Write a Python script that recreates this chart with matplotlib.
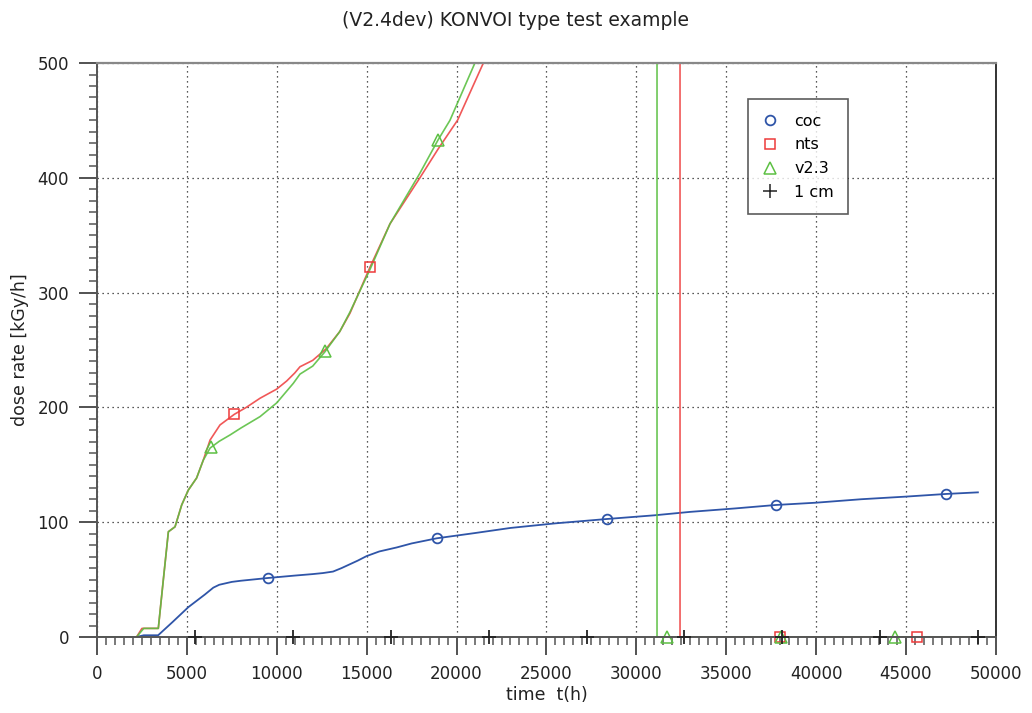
import numpy as np
import matplotlib
matplotlib.use("Agg")
import matplotlib.pyplot as plt
from matplotlib.ticker import MultipleLocator

# coc: computed dose rate over time
coc_t = [0, 2200, 2600, 3400, 4200, 5080, 6000, 6470, 6800, 7500, 8000, 9510, 11000,
         12000, 12570, 13130, 13600, 14500, 15000, 15700, 16670, 17500, 18910, 21000,
         23000, 25500, 28370, 31000, 33000, 35500, 37760, 40000, 42500, 45000, 47220, 49000]
coc_v = [0, 0, 1.5, 1.5, 13, 26, 37, 43, 45.5, 48, 49, 51.4, 53.5,
         54.8, 55.7, 57, 60, 66.5, 70.5, 74.5, 78, 81.5, 86, 90.5,
         95, 99, 102.8, 106, 109, 112, 115, 117, 120, 122.3, 124.6, 126]

# nts: reference dose rate, drops to zero after the last valid point
nts_t = [0, 2200, 2500, 3410, 3690, 3970, 4340, 4710, 5080, 5540, 5910, 6290,
         6840, 7640, 8300, 9070, 10000, 10550, 11000, 11290, 12000, 12740, 13500,
         14070, 15180, 16300, 17960, 18970, 20060, 21490, 23000, 26000, 29000,
         32430, 32431, 40000, 50000]
nts_v = [0, 0, 7.5, 7.5, 50, 91.7, 96, 115, 128, 138.5, 154, 171.6,
         184.7, 194, 200, 208, 216, 223, 230, 235.4, 241, 251, 266,
         282, 322, 360, 400, 425, 450.3, 500, 545, 640, 740,
         850, 0, 0, 0]

# v2.3: previous code version
v23_t = [0, 2200, 2600, 3410, 3690, 3970, 4340, 4710, 5080, 5540, 5910, 6290,
         6800, 7400, 8000, 9070, 10000, 10920, 11290, 12000, 12680, 13500, 14070,
         15180, 16300, 17960, 18970, 19630, 21020, 23000, 26000, 29000, 31150,
         31151, 40000, 50000]
v23_v = [0, 0, 7.5, 7.5, 50, 91.7, 96, 115, 128, 138.5, 154, 164.6,
         170.5, 176, 182, 192, 204, 221, 229, 236, 248.5, 266, 283,
         320, 360, 404, 433, 450, 500, 560, 660, 760, 830,
         0, 0, 0]

# 1 cm: zero throughout
cm1_t = [0, 50000]
cm1_v = [0, 0]

# marker positions along each curve
coc_mark = [9510, 18910, 28370, 37760, 47220]
nts_mark = [7640, 15180, 22800, 30400, 38000, 45600]
v23_mark = [6340, 12700, 18970, 25300, 31700, 38050, 44400]
cm1_mark = [5450, 10900, 16350, 21800, 27250, 32650, 38100, 43550, 49000]

blue = "#2f55a8"
red = "#ee3b3b"
green = "#5cc043"

ymax = 500


def marks(xm, t, v):
    ym = np.interp(xm, t, v)
    ym[ym > ymax] = np.nan  # off-scale marks are not drawn
    return xm, ym


fig = plt.figure(figsize=(10.32, 7.13), dpi=100)
ax = fig.add_axes([0.094, 0.1066, 0.871, 0.805])

ax.plot(coc_t, coc_v, color=blue, lw=1.3)
ax.plot(nts_t, nts_v, color=red, lw=1.2, alpha=0.85)
ax.plot(v23_t, v23_v, color=green, lw=1.2, alpha=0.9)

ax.plot(*marks(coc_mark, coc_t, coc_v), ls="none", marker="o",
        ms=7, mfc="none", mec=blue, mew=1.3, clip_on=False)
ax.plot(*marks(nts_mark, nts_t, nts_v), ls="none", marker="s",
        ms=6.5, mfc="none", mec=red, mew=1.1, clip_on=False)
ax.plot(*marks(v23_mark, v23_t, v23_v), ls="none", marker="^",
        ms=8, mfc="none", mec=green, mew=1.1, clip_on=False)
ax.plot(*marks(cm1_mark, cm1_t, cm1_v), ls="none", marker="+",
        ms=9.5, mec="#222222", mew=1.3, clip_on=False, zorder=5)

# legend entries
ax.plot([], [], ls="none", marker="o", ms=7, mfc="none", mec=blue, mew=1.3, label="coc")
ax.plot([], [], ls="none", marker="s", ms=6.5, mfc="none", mec=red, mew=1.1, label="nts")
ax.plot([], [], ls="none", marker="^", ms=8, mfc="none", mec=green, mew=1.1, label="v2.3")
ax.plot([], [], ls="none", marker="+", ms=9.5, mec="#222222", mew=1.1, label="1 cm")
handles, labels = ax.get_legend_handles_labels()
leg = ax.legend(handles[-4:], labels[-4:], loc="upper left",
                bbox_to_anchor=(0.724, 0.937), frameon=True, fancybox=False,
                fontsize=11.5, handlelength=1.0, handletextpad=1.0,
                borderpad=0.9, labelspacing=0.55, borderaxespad=0)
leg.get_frame().set_edgecolor("#333333")
leg.get_frame().set_linewidth(1.2)

ax.set_xlim(0, 50000)
ax.set_ylim(0, ymax)
ax.xaxis.set_major_locator(MultipleLocator(5000))
ax.xaxis.set_minor_locator(MultipleLocator(500))
ax.yaxis.set_major_locator(MultipleLocator(100))
ax.yaxis.set_minor_locator(MultipleLocator(10))
ax.tick_params(which="major", direction="out", length=13, width=1.3,
               color="#444444", labelsize=12, labelcolor="#222222", pad=7)
ax.tick_params(which="minor", direction="out", length=6, width=1.1, color="#555555")
ax.grid(True, which="major", color="#222222", ls=(0, (1, 3)), lw=0.9)

for side in ["left", "bottom"]:
    ax.spines[side].set_color("#555555")
    ax.spines[side].set_linewidth(1.4)
ax.spines["top"].set_color("#888888")
ax.spines["top"].set_linewidth(1.6)
ax.spines["right"].set_color("#111111")
ax.spines["right"].set_linewidth(1.2)

ax.set_xlabel("time  t(h)", fontsize=12.5, color="#222222", labelpad=2)
ax.set_ylabel("dose rate [kGy/h]", fontsize=12.5, color="#222222", labelpad=6)
fig.suptitle("(V2.4dev) KONVOI type test example", fontsize=13.5, color="#222222",
             y=0.985)

fig.savefig("out.png", dpi=100)
